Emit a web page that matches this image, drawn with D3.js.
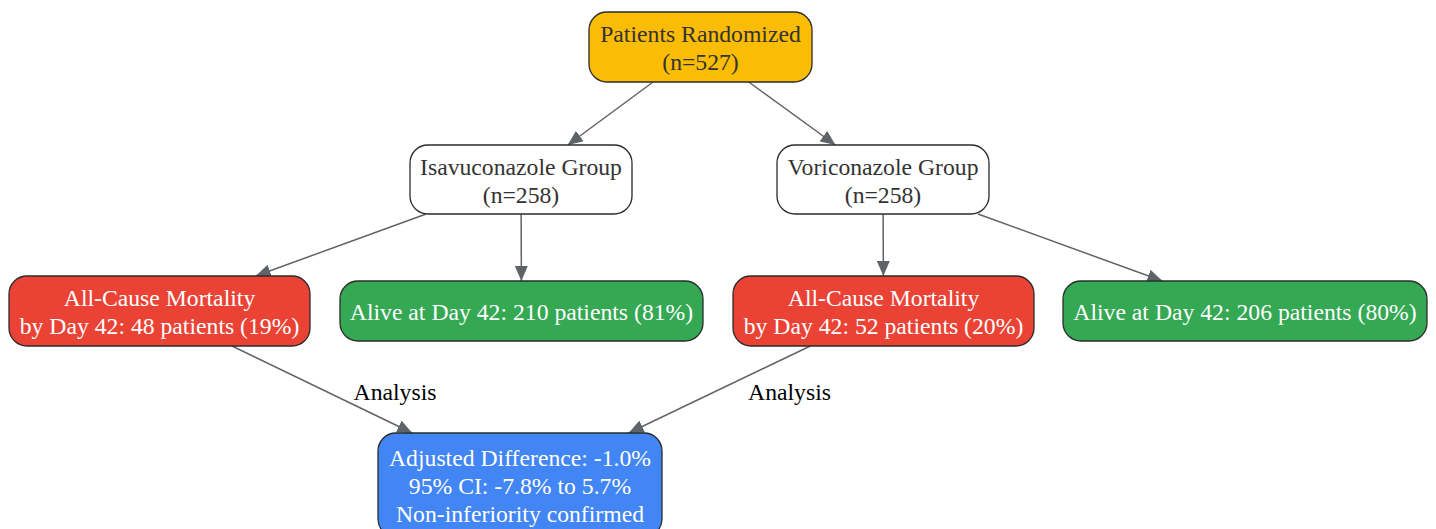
<!DOCTYPE html>
<html>
<head>
<meta charset="utf-8">
<script src="https://cdn.jsdelivr.net/npm/d3@7"></script>
<style>
  body { margin: 0; background: #fff; }
  svg { display: block; }
</style>
</head>
<body>
<script>
// node ids, their text and what kind of box they are
const nodeIds = ["rand", "iso", "vori", "mortIso", "aliveIso", "mortVori", "aliveVori", "diff"];
const nodeLabels = [
    ["Patients Randomized", "(n=527)"],
    ["Isavuconazole Group", "(n=258)"],
    ["Voriconazole Group", "(n=258)"],
    ["All-Cause Mortality", "by Day 42: 48 patients (19%)"],
    ["Alive at Day 42: 210 patients (81%)"],
    ["All-Cause Mortality", "by Day 42: 52 patients (20%)"],
    ["Alive at Day 42: 206 patients (80%)"],
    ["Adjusted Difference: -1.0%", "95% CI: -7.8% to 5.7%", "Non-inferiority confirmed"]
];
const nodeKinds = ["start", "group", "group", "death", "alive", "death", "alive", "result"];

// edges: source, target, label
const edgeSources = ["rand", "rand", "iso", "iso", "vori", "vori", "mortIso", "mortVori"];
const edgeTargets = ["iso", "vori", "mortIso", "aliveIso", "mortVori", "aliveVori", "diff", "diff"];
const edgeLabels = ["", "", "", "", "", "", "Analysis", "Analysis"];

// layout (graphviz-ish placement, centre + size)
const layout = {
    rand:      { cx: 700.5, cy: 47,    w: 223, h: 70 },
    iso:       { cx: 521,   cy: 179.5, w: 222, h: 69 },
    vori:      { cx: 883,   cy: 179.5, w: 212, h: 69 },
    mortIso:   { cx: 159.5, cy: 311,   w: 301, h: 70 },
    aliveIso:  { cx: 521.5, cy: 311,   w: 363, h: 60 },
    mortVori:  { cx: 883.5, cy: 311,   w: 301, h: 70 },
    aliveVori: { cx: 1245,  cy: 311,   w: 364, h: 60 },
    diff:      { cx: 520,   cy: 485,   w: 284, h: 104 }
};
const labelPos = [null, null, null, null, null, null, { x: 395, y: 392 }, { x: 789.5, y: 392 }];

const width = 1436, height = 529;
const fontSize = 23.7;
const lineH = 28;

const fill = d3.scaleOrdinal()
    .domain(["start", "group", "death", "alive", "result"])
    .range(["#fbbc04", "#ffffff", "#ea4335", "#34a853", "#4285f4"]);
const textColor = d3.scaleOrdinal()
    .domain(["start", "group", "death", "alive", "result"])
    .range(["#333333", "#333333", "#ffffff", "#ffffff", "#ffffff"]);

const nodes = nodeIds.map((id, i) => ({ id: id, lines: nodeLabels[i], kind: nodeKinds[i], ...layout[id] }));
const byId = {};
nodes.forEach(n => byId[n.id] = n);
const edges = edgeSources.map((s, i) => ({ source: byId[s], target: byId[edgeTargets[i]], label: edgeLabels[i], lp: labelPos[i] }));

const svg = d3.select("body").append("svg")
    .attr("width", width)
    .attr("height", height);

svg.append("defs").append("marker")
    .attr("id", "arrow")
    .attr("viewBox", "0 0 15 13")
    .attr("refX", 15)
    .attr("refY", 6.5)
    .attr("markerWidth", 15)
    .attr("markerHeight", 13)
    .attr("markerUnits", "userSpaceOnUse")
    .attr("orient", "auto")
    .append("path")
    .attr("d", "M0,0L15,6.5L0,13Z")
    .attr("fill", "#5f6368");

// clip a centre-to-centre line at the box edge
function clip(n, dx, dy) {
    const tx = dx === 0 ? Infinity : (n.w / 2) / Math.abs(dx);
    const ty = dy === 0 ? Infinity : (n.h / 2) / Math.abs(dy);
    const t = Math.min(tx, ty);
    return [n.cx + dx * t, n.cy + dy * t];
}

const edgeG = svg.append("g");
edges.forEach(e => {
    const dx = e.target.cx - e.source.cx, dy = e.target.cy - e.source.cy;
    const p0 = clip(e.source, dx, dy);
    const p1 = clip(e.target, -dx, -dy);
    edgeG.append("line")
        .attr("x1", p0[0]).attr("y1", p0[1])
        .attr("x2", p1[0]).attr("y2", p1[1])
        .attr("stroke", "#5f6368")
        .attr("stroke-width", 1.5)
        .attr("marker-end", "url(#arrow)");
    if (e.label) {
        edgeG.append("text")
            .attr("x", e.lp.x)
            .attr("y", e.lp.y)
            .attr("text-anchor", "middle")
            .attr("dominant-baseline", "central")
            .attr("font-family", "'Liberation Serif', 'Times New Roman', serif")
            .attr("font-size", fontSize)
            .attr("fill", "#000")
            .text(e.label);
    }
});

const nodeG = svg.append("g").selectAll("g")
    .data(nodes)
    .join("g")
    .attr("transform", d => `translate(${d.cx},${d.cy})`);

nodeG.append("rect")
    .attr("x", d => -d.w / 2)
    .attr("y", d => -d.h / 2)
    .attr("width", d => d.w)
    .attr("height", d => d.h)
    .attr("rx", 18)
    .attr("ry", 18)
    .attr("fill", d => fill(d.kind))
    .attr("stroke", "#2b2b2b")
    .attr("stroke-width", 1.3);

nodeG.each(function(d) {
    const g = d3.select(this);
    const n = d.lines.length;
    d.lines.forEach((line, i) => {
        g.append("text")
            .attr("x", 0)
            .attr("y", (i - (n - 1) / 2) * lineH + 1)
            .attr("text-anchor", "middle")
            .attr("dominant-baseline", "central")
            .attr("font-family", "'Liberation Serif', 'Times New Roman', serif")
            .attr("font-size", fontSize)
            .attr("fill", textColor(d.kind))
            .text(line);
    });
});
</script>
</body>
</html>
